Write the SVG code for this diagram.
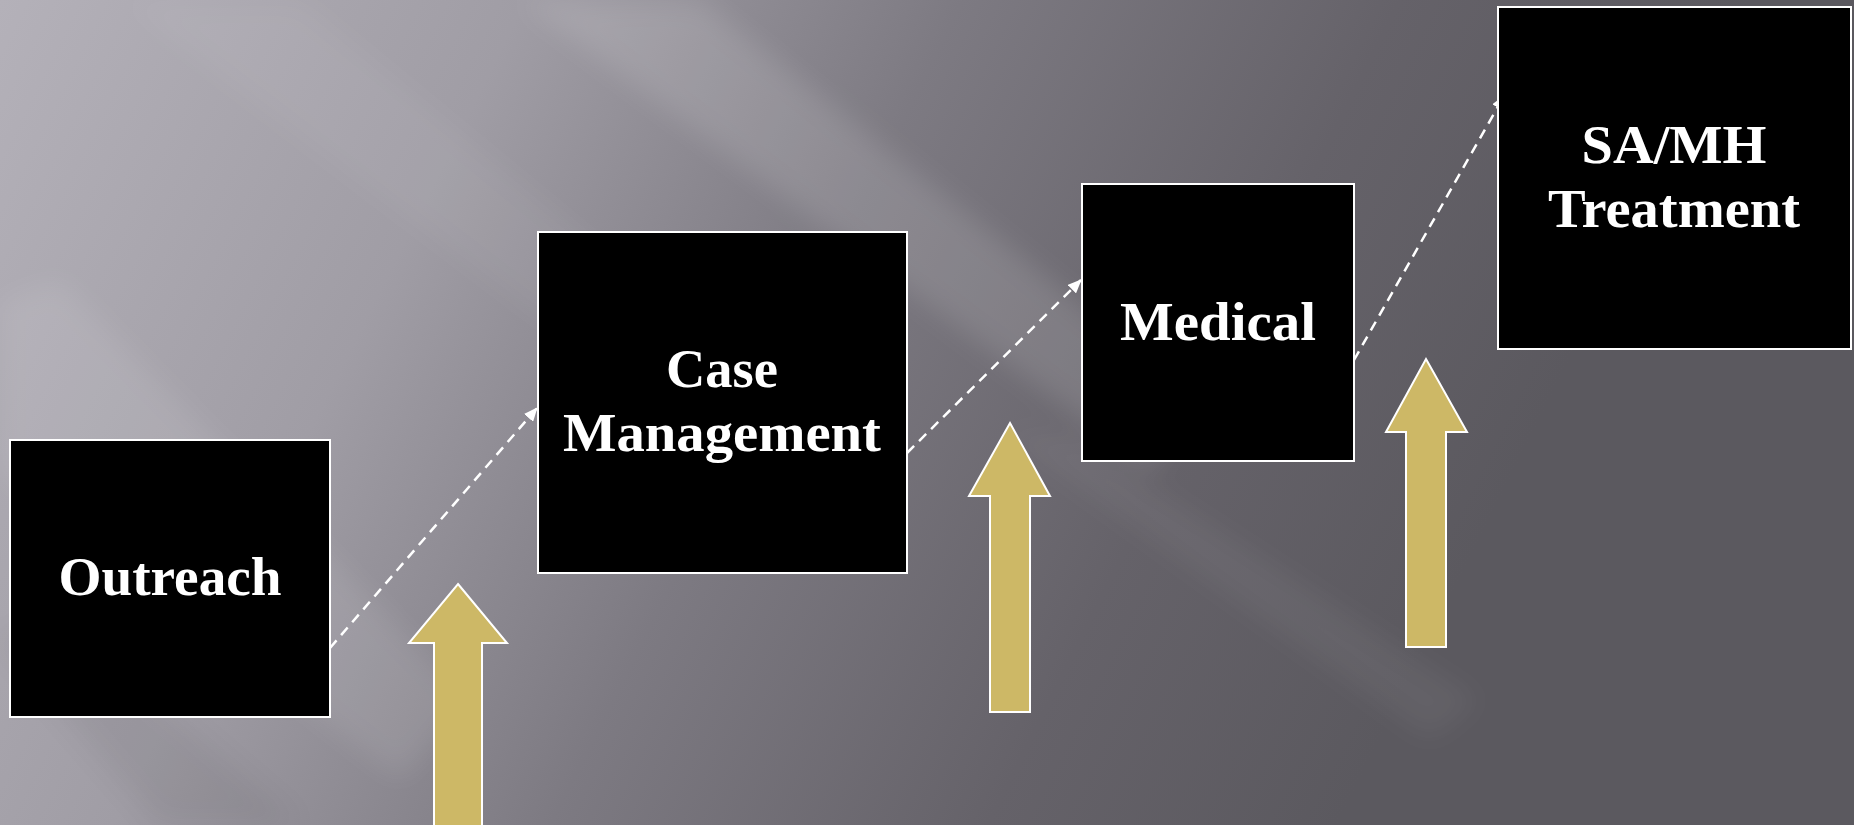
<svg xmlns="http://www.w3.org/2000/svg" width="1854" height="825" viewBox="0 0 1854 825">
  <defs>
    <linearGradient id="bg" gradientUnits="userSpaceOnUse" x1="0" y1="0" x2="1400" y2="700">
      <stop offset="0" stop-color="#b4b1b9"/>
      <stop offset="0.3" stop-color="#a09da5"/>
      <stop offset="0.55" stop-color="#7d7a82"/>
      <stop offset="0.8" stop-color="#656269"/>
      <stop offset="1" stop-color="#5b595f"/>
    </linearGradient>
    <filter id="soft" x="-20%" y="-20%" width="140%" height="140%">
      <feGaussianBlur stdDeviation="14"/>
    </filter>
    <marker id="tip" viewBox="0 0 14 12" refX="13" refY="6" markerWidth="14" markerHeight="12" markerUnits="userSpaceOnUse" orient="auto">
      <path d="M0,0 L14,6 L0,12 Z" fill="#ffffff"/>
    </marker>
    <style>
      .box { fill: #000000; stroke: #ffffff; stroke-width: 2; }
      .label { font-family: "Liberation Serif", "DejaVu Serif", serif; font-weight: bold; font-size: 54px; fill: #ffffff; text-anchor: middle; }
      .link { fill: none; stroke: #ffffff; stroke-width: 2.5; stroke-dasharray: 10 7; marker-end: url(#tip); }
      .up { fill: #cdb866; stroke: #ffffff; stroke-width: 2; stroke-linejoin: miter; }
    </style>
  </defs>

  <!-- backdrop: grey gradient with soft diagonal light streaks -->
  <g id="backdrop">
    <rect x="0" y="0" width="1854" height="825" fill="url(#bg)"/>
    <g filter="url(#soft)">
      <polygon points="520,0 700,0 1200,400 1150,470" fill="#ffffff" opacity="0.12"/>
      <polygon points="0,300 60,280 470,700 400,780 0,470" fill="#ffffff" opacity="0.09"/>
      <polygon points="120,0 300,0 760,380 700,440" fill="#ffffff" opacity="0.05"/>
      <polygon points="1000,430 1080,440 1480,700 1430,740" fill="#ffffff" opacity="0.05"/>
      <polygon points="0,640 60,620 300,825 160,825" fill="#000000" opacity="0.05"/>
    </g>
  </g>

  <!-- dashed flow links between stages -->
  <g id="connectors">
    <line class="link" x1="330" y1="648" x2="537" y2="408"/>
    <line class="link" x1="907" y1="453" x2="1081" y2="280"/>
    <line class="link" x1="1354" y1="360" x2="1504" y2="96"/>
  </g>

  <!-- stage boxes -->
  <g id="outreach">
    <rect class="box" x="10" y="440" width="320" height="277"/>
    <text class="label" x="170" y="595" textLength="223" lengthAdjust="spacingAndGlyphs">Outreach</text>
  </g>
  <g id="case-management">
    <rect class="box" x="538" y="232" width="369" height="341"/>
    <text class="label" x="722" y="387" textLength="112" lengthAdjust="spacingAndGlyphs">Case</text>
    <text class="label" x="722" y="451" textLength="318" lengthAdjust="spacingAndGlyphs">Management</text>
  </g>
  <g id="medical">
    <rect class="box" x="1082" y="184" width="272" height="277"/>
    <text class="label" x="1218" y="340" textLength="196" lengthAdjust="spacingAndGlyphs">Medical</text>
  </g>
  <g id="samh-treatment">
    <rect class="box" x="1498" y="7" width="353" height="342"/>
    <text class="label" x="1674" y="163" textLength="185" lengthAdjust="spacingAndGlyphs">SA/MH</text>
    <text class="label" x="1674" y="227" textLength="252" lengthAdjust="spacingAndGlyphs">Treatment</text>
  </g>

  <!-- gold block arrows -->
  <g id="up-arrow-1">
    <polygon class="up" points="458,584 507,643 482,643 482,830 434,830 434,643 409,643"/>
  </g>
  <g id="up-arrow-2">
    <polygon class="up" points="1010,423 1050,496 1030,496 1030,712 990,712 990,496 969,496"/>
  </g>
  <g id="up-arrow-3">
    <polygon class="up" points="1426,359 1467,432 1446,432 1446,647 1406,647 1406,432 1386,432"/>
  </g>
</svg>
